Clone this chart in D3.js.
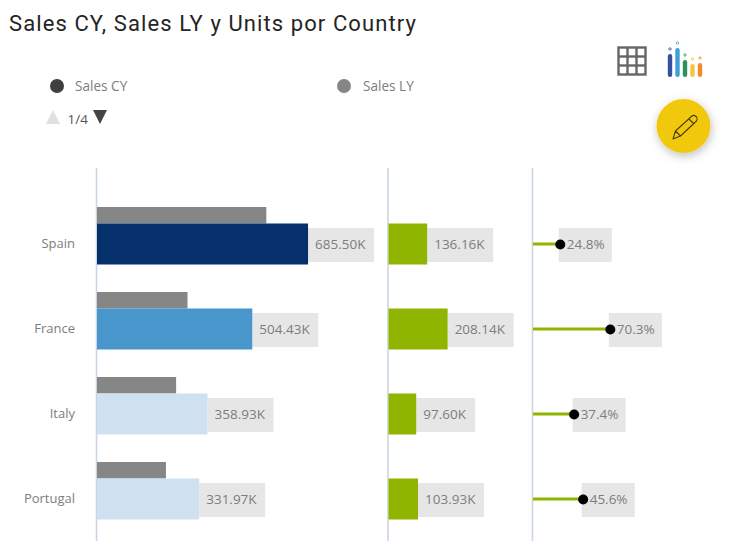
<!DOCTYPE html>
<html>
  <head>
    <meta charset="utf-8">
    <title>Sales CY, Sales LY y Units por Country</title>
    <style>
      body {
        margin: 0;
        padding: 0;
        background: #fff;
        font-family: 'Open Sans', sans-serif;
      }

      svg {
        display: block;
      }
    </style>
  </head>
  <body>
    <div id="chart"></div>

    <script src="https://cdnjs.cloudflare.com/ajax/libs/d3/7.8.5/d3.min.js"></script>
    <script>
      // Data
      const countries = ["Spain", "France", "Italy", "Portugal"];
      const salesCY = [685.50, 504.43, 358.93, 331.97];
      const salesLY = [550, 294, 257, 224];
      const units = [136.16, 208.14, 97.60, 103.93];
      const unitsPct = [24.8, 70.3, 37.4, 45.6];
      const cyColors = ["#05306b", "#4896cb", "#cfe0f1", "#cfe0f1"];
      const legendLabels = ["Sales CY", "Sales LY"];
      const bandBars = [0, 1, 2, 3];

      const svg = d3.select('#chart')
                    .append('svg')
                    .attr('width', 734)
                    .attr('height', 558);

      const textGrey = '#7d7d7d';
      const labelBg = '#e6e6e6';
      const lyGrey = '#868686';
      const green = '#8fb500';
      const axisColor = '#c9d5e4';

      // Title
      svg.append('text')
         .attr('x', 9)
         .attr('y', 31)
         .attr('font-family', 'Roboto, sans-serif')
         .attr('font-size', 22)
         .attr('letter-spacing', 1.09)
         .attr('fill', '#252423')
         .text('Sales CY, Sales LY y Units por Country');

      // Legend
      const legend = svg.append('g');
      legend.append('circle').attr('cx', 57).attr('cy', 86).attr('r', 7).attr('fill', '#3f3f3f');
      legend.append('circle').attr('cx', 344).attr('cy', 86).attr('r', 7).attr('fill', lyGrey);
      legend.selectAll('.legend-label')
            .data(legendLabels)
            .enter()
            .append('text')
            .attr('class', 'legend-label')
            .attr('x', (d, i) => i === 0 ? 75 : 363)
            .attr('y', 91)
            .attr('font-size', 13.6)
            .attr('fill', textGrey)
            .text(d => d);
      legend.append('path').attr('d', 'M46,124 L60,124 L53,110 Z').attr('fill', '#e0e0e0');
      legend.append('path').attr('d', 'M93,110 L107,110 L100,124 Z').attr('fill', '#444');
      legend.append('text')
            .attr('x', 67.5)
            .attr('y', 124)
            .attr('font-size', 13.5)
            .attr('fill', '#555')
            .text('1/4');

      // Scales
      const y = d3.scaleBand()
                  .domain(countries)
                  .range([207, 519.5])
                  .paddingInner(0.3235)
                  .paddingOuter(0);
      const lyHeight = 16.5;

      const xSales = d3.scaleLinear().domain([0, 700]).range([97, 312.5]);
      const xUnits = d3.scaleLinear().domain([0, 220]).range([388.5, 451]);
      const xPct = d3.scaleLinear().domain([0, 80]).range([533, 621]);

      const salesFormat = d => d3.format('.2f')(d) + 'K';
      const pctFormat = d => d3.format('.1f')(d) + '%';

      // Column base lines
      svg.selectAll('.base')
         .data([xSales(0), xUnits(0), xPct(0)])
         .enter()
         .append('line')
         .attr('class', 'base')
         .attr('x1', d => d - 0.5)
         .attr('x2', d => d - 0.5)
         .attr('y1', 168)
         .attr('y2', 541)
         .attr('stroke', axisColor)
         .attr('stroke-width', 1.6);

      // Country labels
      const yAxis = svg.append('g')
                       .attr('transform', 'translate(82,1)')
                       .call(d3.axisLeft(y).tickSize(0).tickPadding(7));
      yAxis.select('.domain').remove();
      yAxis.selectAll('text')
           .attr('font-family', "'Open Sans', sans-serif")
           .attr('font-size', 13)
           .attr('fill', textGrey)
           .attr('dy', '0.9em');

      // Sales LY bars
      svg.selectAll('.bar-ly')
         .data(bandBars)
         .enter()
         .append('rect')
         .attr('class', 'bar-ly')
         .attr('x', xSales(0))
         .attr('y', i => y(countries[i]))
         .attr('width', i => xSales(salesLY[i]) - xSales(0))
         .attr('height', lyHeight)
         .attr('fill', lyGrey);

      // Value label with a grey box behind it
      function addLabels(name, values, scale, format, boxWidth, boxOffset, textOffset) {
        const rows = svg.selectAll('.' + name)
                        .data(bandBars)
                        .enter()
                        .append('g')
                        .attr('class', name);
        rows.append('rect')
            .attr('x', i => scale(values[i]) + boxOffset)
            .attr('y', i => y(countries[i]) + lyHeight + 4.5)
            .attr('width', i => typeof boxWidth === 'function' ? boxWidth(i) : boxWidth)
            .attr('height', 34)
            .attr('fill', labelBg);
        rows.append('text')
            .attr('x', i => scale(values[i]) + textOffset)
            .attr('y', i => y(countries[i]) + lyHeight + 25.5)
            .attr('font-size', 13.5)
            .attr('fill', textGrey)
            .text(i => format(values[i]));
      }

      addLabels('label-cy', salesCY, xSales, salesFormat, 66, 0, 7);
      addLabels('label-units', units, xUnits, salesFormat, i => units[i] < 100 ? 59 : 66, 0, 7);

      // Sales CY bars
      svg.selectAll('.bar-cy')
         .data(bandBars)
         .enter()
         .append('rect')
         .attr('class', 'bar-cy')
         .attr('x', xSales(0))
         .attr('y', i => y(countries[i]) + lyHeight)
         .attr('width', i => xSales(salesCY[i]) - xSales(0))
         .attr('height', y.bandwidth() - lyHeight)
         .attr('fill', i => cyColors[i]);

      // Units bars
      svg.selectAll('.bar-units')
         .data(bandBars)
         .enter()
         .append('rect')
         .attr('class', 'bar-units')
         .attr('x', xUnits(0))
         .attr('y', i => y(countries[i]) + lyHeight)
         .attr('width', i => xUnits(units[i]) - xUnits(0))
         .attr('height', y.bandwidth() - lyHeight)
         .attr('fill', green);

      // Percent lollipops
      addLabels('label-pct', unitsPct, xPct, pctFormat, 53, -1.5, 6.5);

      svg.selectAll('.stem')
         .data(bandBars)
         .enter()
         .append('line')
         .attr('class', 'stem')
         .attr('x1', xPct(0))
         .attr('x2', i => xPct(unitsPct[i]))
         .attr('y1', i => y(countries[i]) + lyHeight + 20.5)
         .attr('y2', i => y(countries[i]) + lyHeight + 20.5)
         .attr('stroke', green)
         .attr('stroke-width', 3);

      svg.selectAll('.dot')
         .data(bandBars)
         .enter()
         .append('circle')
         .attr('class', 'dot')
         .attr('cx', i => xPct(unitsPct[i]))
         .attr('cy', i => y(countries[i]) + lyHeight + 21)
         .attr('r', 5)
         .attr('fill', '#000');

      // Table icon
      const grid = svg.append('g').attr('fill', 'none').attr('stroke', '#666').attr('stroke-width', 2.4);
      grid.append('rect').attr('x', 618.5).attr('y', 47.5).attr('width', 27).attr('height', 27);
      [627.5, 636.5].forEach(p => {
        grid.append('line').attr('x1', p).attr('x2', p).attr('y1', 47.5).attr('y2', 74.5);
      });
      [56.5, 65.5].forEach(p => {
        grid.append('line').attr('y1', p).attr('y2', p).attr('x1', 618.5).attr('x2', 645.5);
      });

      // Colour bars icon
      const iconBars = [
        {x: 670, top: 54, color: '#34509f'},
        {x: 677.5, top: 48, color: '#3c9fdc'},
        {x: 685, top: 60, color: '#2f8f5b'},
        {x: 692.5, top: 64, color: '#f1c644'},
        {x: 700, top: 63, color: '#ee8c2a'}
      ];
      const icon = svg.append('g');
      iconBars.forEach(b => {
        icon.append('rect').attr('x', b.x - 2.2).attr('y', b.top).attr('width', 4.4)
            .attr('height', 77 - b.top).attr('rx', 2.2).attr('fill', b.color);
        icon.append('circle').attr('cx', b.x).attr('cy', b.top - 5).attr('r', 1.2)
            .attr('fill', 'none').attr('stroke', b.color).attr('stroke-width', 0.8);
      });

      // Edit button
      const defs = svg.append('defs');
      const shadow = defs.append('filter').attr('id', 'fab-shadow')
                         .attr('x', '-40%').attr('y', '-40%').attr('width', '180%').attr('height', '180%');
      shadow.append('feDropShadow').attr('dx', 1).attr('dy', 3).attr('stdDeviation', 5)
            .attr('flood-color', '#000').attr('flood-opacity', 0.25);
      svg.append('circle')
         .attr('cx', 683.5)
         .attr('cy', 126)
         .attr('r', 27)
         .attr('fill', '#f2c811')
         .attr('filter', 'url(#fab-shadow)');
      svg.append('path')
         .attr('d', 'M673,139 L675.5,131 L692,116 Q694,114.5 696,116.5 L696.5,117 Q698,119 696.5,121 L680.5,136 Z M675.5,131 L680.5,136 M689,119 L694,124')
         .attr('fill', 'none')
         .attr('stroke', '#4a3d10')
         .attr('stroke-width', 1.1)
         .attr('stroke-linejoin', 'round');
    </script>
  </body>
</html>
